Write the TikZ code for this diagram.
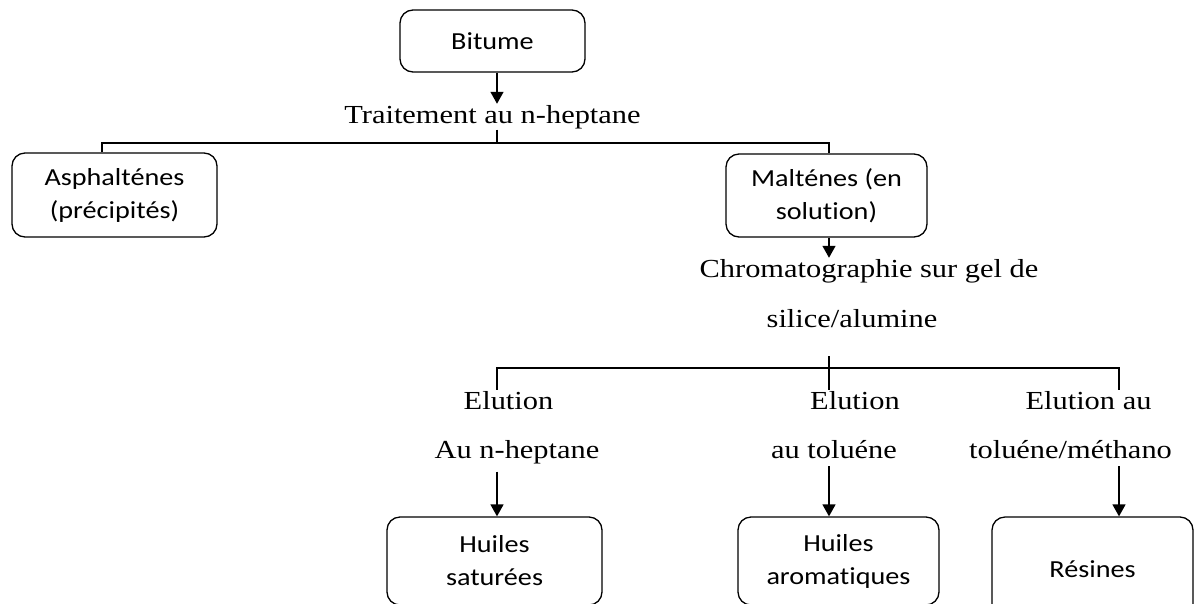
\documentclass[tikz,border=0pt]{standalone}
\usepackage{fontspec}
\setmainfont[FakeStretch=1.17]{Liberation Serif}
\newfontfamily\calib[FakeStretch=1.15,Ligatures=NoCommon]{Carlito}
\usetikzlibrary{arrows.meta}
\begin{document}
\begin{tikzpicture}[x=1pt,y=-1pt,
  rbox/.style={draw, rounded corners=13pt, line width=1.3pt, align=center,
    font=\calib\fontsize{24.5}{33}\selectfont, inner sep=0pt},
  lbl/.style={anchor=base, inner sep=1pt, font=\fontsize{26}{31}\selectfont},
  ln/.style={line width=1.3pt},
  arr/.style={line width=1.5pt, -{Triangle[length=12pt,width=13pt]}}]
\useasboundingbox (0,0) rectangle (1194,603);
\clip (0,0) rectangle (1194,603);
% boxes
\node[rbox, minimum width=185pt, minimum height=62pt] (bit) at (492.5,41) {Bitume};
\node[rbox, minimum width=205pt, minimum height=84pt] (asp) at (114.5,195) {Asphalténes\\(précipités)};
\node[rbox, minimum width=201pt, minimum height=83pt] (mal) at (826.5,195.5) {Malténes (en\\solution)};
\node[rbox, minimum width=215pt, minimum height=88pt] (hs) at (494.5,561) {Huiles\\saturées};
\node[rbox, minimum width=201pt, minimum height=88pt] (ha) at (838.5,561) {Huiles\\aromatiques};
\node[rbox, minimum width=201pt, minimum height=104pt] (res) at (1092.5,569) {Résines};
% labels
\node[lbl] (trt) at (492.5,123) {Traitement au n-heptane};
\node[lbl] (chr1) at (869,277) {Chromatographie sur gel de};
\node[lbl] (chr2) at (852,327) {silice/alumine};
\node[lbl] (e1a) at (508.5,409) {Elution};
\node[lbl] (e1b) at (517,458) {Au n-heptane};
\node[lbl] (e2a) at (855,409) {Elution};
\node[lbl] (e2b) at (834,458) {au toluéne};
\node[lbl] (e3a) at (1088.5,409) {Elution au};
\node[lbl] (e3b) at (1070.5,458) {toluéne/méthano};
% junction coordinates
\coordinate (j1) at (497,143);
\coordinate (hl) at (102,143);
\coordinate (hr) at (829,143);
\coordinate (m2top) at (829,356);
\coordinate (b1) at (497,368);
\coordinate (b2) at (829,368);
\coordinate (b3) at (1119,368);
% connectors
\draw[arr] (bit.south -| j1) -- (trt.north -| j1);
\draw[ln] (trt.south -| j1) -- (j1);
\draw[ln] (asp.north -| hl) -- (hl) -- (hr) -- (mal.north -| hr);
\draw[arr] (mal.south -| hr) -- (chr1.north -| hr);
\draw[ln] (m2top) -- (e2a.north -| m2top);
\draw[ln] (e1a.north -| b1) -- (b1) -- (b3) -- (e3a.north -| b3);
\draw[arr] ([yshift=-7pt]e1b.south -| b1) -- (hs.north -| b1);
\draw[arr] ([yshift=-7pt]e2b.south -| b2) -- (ha.north -| b2);
\draw[arr] ([yshift=-7pt]e3b.south -| b3) -- (res.north -| b3);
\end{tikzpicture}
\end{document}
